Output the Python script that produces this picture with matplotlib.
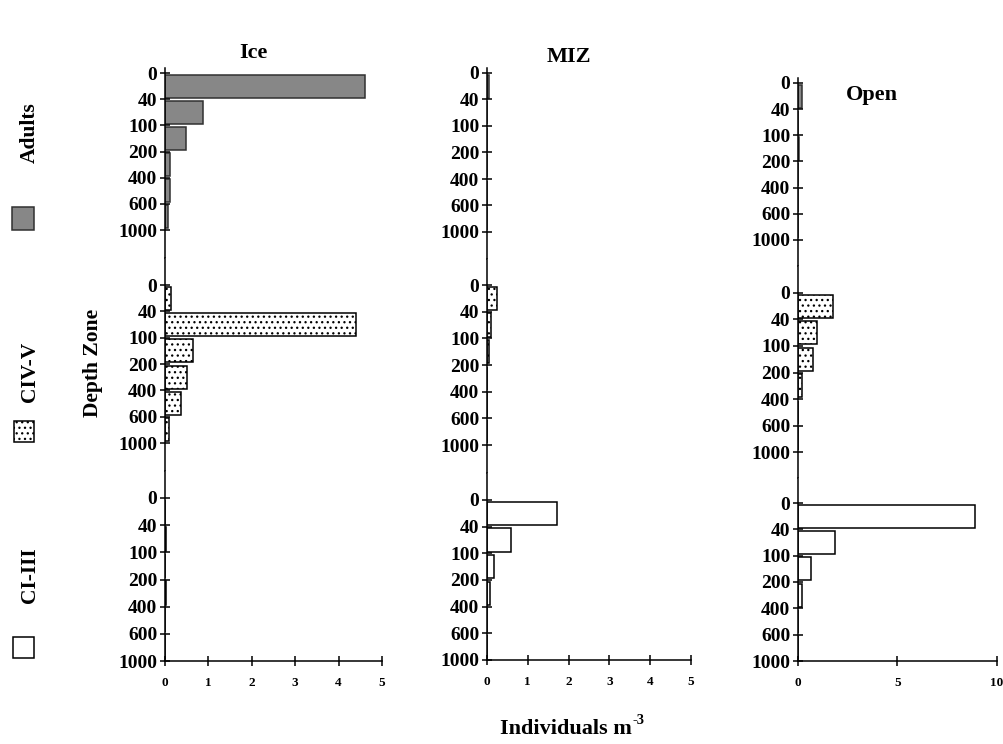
import matplotlib
matplotlib.use('Agg')
import matplotlib.pyplot as plt
from matplotlib.patches import Rectangle
import numpy as np

plt.rcParams['font.family'] = ['Liberation Serif', 'DejaVu Serif']
plt.rcParams['font.weight'] = 'bold'
plt.rcParams['hatch.linewidth'] = 0.9

# depth zones (m), one bar per interval between ticks
depths = ['0', '40', '100', '200', '400', '600', '1000']
stations = ['Ice', 'MIZ', 'Open']
stages = ['Adults', 'CIV-V', 'CI-III']

# individuals m^-3 per depth interval
ice_adults = [4.6, 0.88, 0.48, 0.12, 0.12, 0.07]
ice_civ_v = [0.13, 4.4, 0.65, 0.5, 0.38, 0.1]
ice_ci_iii = [0.0, 0.03, 0.0, 0.03, 0.0, 0.0]

miz_adults = [0.05, 0.0, 0.0, 0.0, 0.0, 0.0]
miz_civ_v = [0.25, 0.1, 0.06, 0.0, 0.0, 0.0]
miz_ci_iii = [1.72, 0.6, 0.18, 0.08, 0.0, 0.0]

open_adults = [0.2, 0.0, 0.06, 0.0, 0.0, 0.0]
open_civ_v = [1.75, 0.95, 0.75, 0.2, 0.0, 0.0]
open_ci_iii = [8.9, 1.85, 0.65, 0.2, 0.0, 0.0]

values = {
    'Ice': [ice_adults, ice_civ_v, ice_ci_iii],
    'MIZ': [miz_adults, miz_civ_v, miz_ci_iii],
    'Open': [open_adults, open_civ_v, open_ci_iii],
}

W, H = 1004, 744
fig = plt.figure(figsize=(W / 100, H / 100), dpi=100)

def px_axes(x0, x1, top, bottom):
    return fig.add_axes([x0 / W, 1 - bottom / H, (x1 - x0) / W, (bottom - top) / H])

# pixel layout: x of 0 and of xmax, y of tick '0' and tick '1000' per row
col_x = {'Ice': (165, 382), 'MIZ': (487, 691), 'Open': (798, 997)}
col_max = {'Ice': 5, 'MIZ': 5, 'Open': 10}
col_step = {'Ice': 1, 'MIZ': 1, 'Open': 5}
rows_y = {
    'Ice': [(73, 230), (285, 443), (498, 661)],
    'MIZ': [(73, 232), (285, 445), (500, 660)],
    'Open': [(83, 240), (293, 452), (503, 661)],
}
bar_style = [
    dict(color='#878787', edgecolor='#303030', hatch=None),
    dict(color='white', edgecolor='black', hatch='...'),
    dict(color='white', edgecolor='black', hatch=None),
]

for st in stations:
    x0, x1 = col_x[st]
    ry = rows_y[st]
    for r in range(3):
        y0, y6 = ry[r]
        top = y0 - 5 if r == 0 else (ry[r - 1][1] + y0) / 2
        bottom = y6 if r == 2 else (y6 + ry[r + 1][0]) / 2
        ax = px_axes(x0, x1, top, bottom)
        u = 6 / (y6 - y0)
        ax.set_ylim(6 + (bottom - y6) * u, -(y0 - top) * u)
        ax.set_xlim(0, col_max[st])

        s = bar_style[r]
        ax.barh(np.arange(6) + 0.5, values[st][r], height=0.88,
                color=s['color'], edgecolor=s['edgecolor'], hatch=s['hatch'],
                linewidth=1.1)

        ax.set_yticks(range(7))
        ax.set_yticklabels(depths)
        ax.tick_params(axis='y', direction='inout', length=7, width=1.1,
                       labelsize=14, pad=2)
        ax.spines['top'].set_visible(False)
        ax.spines['right'].set_visible(False)
        ax.spines['left'].set_linewidth(1.1)
        if r == 2:
            ax.set_xticks(range(0, col_max[st] + 1, col_step[st]))
            ax.tick_params(axis='x', direction='inout', length=7, width=1.1,
                           labelsize=9.5, pad=8)
            ax.spines['bottom'].set_linewidth(1.1)
        else:
            ax.set_xticks([])
            ax.spines['bottom'].set_visible(False)

# column titles
fig.text(253 / W, 1 - 53 / H, 'Ice', ha='center', va='center', fontsize=16)
fig.text(569 / W, 1 - 57 / H, 'MIZ', ha='center', va='center', fontsize=16)
fig.text(872 / W, 1 - 95 / H, 'Open', ha='center', va='center', fontsize=16)

# stage legend on the left
fig.text(30 / W, 1 - 133 / H, 'Adults', rotation=90, ha='center', va='center', fontsize=15.5)
fig.text(30 / W, 1 - 372 / H, 'CIV-V', rotation=90, ha='center', va='center', fontsize=15.5)
fig.text(30 / W, 1 - 575 / H, 'CI-III', rotation=90, ha='center', va='center', fontsize=15.5)
squares = [(12, 207, 22, 23), (14, 421, 20, 21), (13, 637, 21, 21)]
for (sx, sy, sw, sh), s in zip(squares, bar_style):
    fig.patches.append(Rectangle((sx / W, 1 - (sy + sh) / H), sw / W, sh / H,
                                 transform=fig.transFigure, facecolor=s['color'],
                                 edgecolor=s['edgecolor'], hatch=s['hatch'], linewidth=1.1))

fig.text(93 / W, 1 - 363 / H, 'Depth Zone', rotation=90, ha='center', va='center', fontsize=15.5)
fig.text(632 / W, 1 - 729 / H, 'Individuals m', ha='right', va='center', fontsize=16)
fig.text(633 / W, 1 - 720 / H, '-3', ha='left', va='center', fontsize=10.5)

fig.savefig('out.png', dpi=100)
